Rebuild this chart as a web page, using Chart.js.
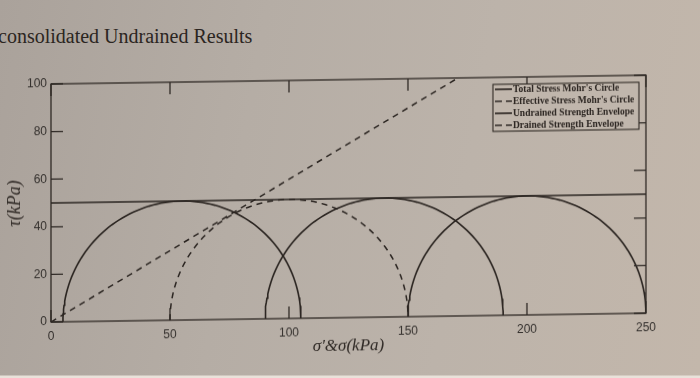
<!DOCTYPE html>
<html>
<head>
<meta charset="utf-8">
<script src="https://cdn.jsdelivr.net/npm/chart.js@4.4.1/dist/chart.umd.min.js"></script>
<style>
  html, body { margin: 0; padding: 0; width: 700px; height: 378px; overflow: hidden; }
  body {
    position: relative;
    background:
      linear-gradient(to bottom, rgba(0,0,0,0) 0, rgba(0,0,0,0) 375px, #e9e2da 376px),
      linear-gradient(100deg, #aaa29b 0%, #b5ada5 35%, #bcb3aa 65%, #c3b7ab 100%);
  }
  #title {
    position: absolute; left: -2px; top: 25px;
    font-family: "Liberation Serif", serif; font-size: 20px; color: #2b2521;
    white-space: nowrap;
  }
  #c { position: absolute; left: 0; top: 0; transform: skewY(-0.85deg); transform-origin: 51px 0; }
</style>
</head>
<body>
<div id="title">consolidated Undrained Results</div>
<canvas id="c" width="700" height="378"></canvas>
<script>
// ---- data ----
const totalSigma3 = [5, 90, 150];      // kPa, total stress Mohr circles (minor)
const totalSigma1 = [105, 190, 250];   // kPa, total stress Mohr circles (major)
const effSigma3 = [50];                // kPa, effective stress Mohr circle
const effSigma1 = [150];
const undrainedX = [0, 250];           // undrained strength envelope (Su = 50)
const undrainedY = [50, 50];
const drainedX = [0, 171];             // drained strength envelope (phi' ~ 30 deg, c' = 0)
const drainedY = [0, 100];
const xTicks = [0, 50, 100, 150, 200, 250];
const yTicks = [0, 20, 40, 60, 80, 100];
const legendLabels = ["Total Stress Mohr's Circle", "Effective Stress Mohr's Circle",
                      "Undrained Strength Envelope", "Drained Strength Envelope"];
const legendDashed = [false, true, false, true];
const xTitle = "\u03C3'&\u03C3(kPa)";
const yTitle = "\u03C4(kPa)";

const INK = '#2a2420';

function mohrPoints(s3, s1) {
  const c = (s1 + s3) / 2, r = (s1 - s3) / 2, pts = [];
  for (let a = 180; a >= 0; a -= 2) {
    const t = a * Math.PI / 180;
    pts.push({ x: c + r * Math.cos(t), y: r * Math.sin(t) });
  }
  return pts;
}
function pairs(xs, ys) { return xs.map((x, i) => ({ x, y: ys[i] })); }

const datasets = [];
effSigma3.forEach((s3, i) => datasets.push({
  data: mohrPoints(s3, effSigma1[i]), borderColor: INK, borderWidth: 1.5, borderDash: [6, 5]
}));
datasets.push({ data: pairs(drainedX, drainedY), borderColor: INK, borderWidth: 1.5, borderDash: [6, 5] });
totalSigma3.forEach((s3, i) => datasets.push({
  data: mohrPoints(s3, totalSigma1[i]), borderColor: INK, borderWidth: 1.6
}));
datasets.push({ data: pairs(undrainedX, undrainedY), borderColor: INK, borderWidth: 1.4 });
datasets.forEach(d => { d.showLine = true; d.pointRadius = 0; d.tension = 0; d.fill = false; });

const framePlugin = {
  id: 'frame',
  afterDatasetsDraw(chart) {
    const { ctx, chartArea: a, scales: { x, y } } = chart;
    ctx.save();
    ctx.strokeStyle = '#2e2824';
    ctx.lineWidth = 1.3;
    ctx.strokeRect(a.left, a.top, a.right - a.left, a.bottom - a.top);
    const L = 12;
    ctx.beginPath();
    xTicks.forEach(v => {
      const px = x.getPixelForValue(v);
      ctx.moveTo(px, a.bottom); ctx.lineTo(px, a.bottom - L);
      ctx.moveTo(px, a.top); ctx.lineTo(px, a.top + L);
    });
    yTicks.forEach(v => {
      const py = y.getPixelForValue(v);
      ctx.moveTo(a.left, py); ctx.lineTo(a.left + L, py);
      ctx.moveTo(a.right, py); ctx.lineTo(a.right - L, py);
    });
    ctx.stroke();

    // legend box
    const w = 146, rowH = 12, h = rowH * legendLabels.length - 1;
    const bx = a.right - 7 - w, by = a.top + 7;
    ctx.fillStyle = '#c0b6ac';
    ctx.fillRect(bx, by, w, h);
    ctx.lineWidth = 1.1;
    ctx.strokeRect(bx, by, w, h);
    ctx.font = 'bold 9.5px "Liberation Serif", serif';
    ctx.textBaseline = 'middle';
    ctx.fillStyle = '#2a2420';
    legendLabels.forEach((lab, i) => {
      const cy = by + 5 + i * rowH;
      ctx.beginPath();
      ctx.lineWidth = 1.7;
      ctx.setLineDash(legendDashed[i] ? [7, 4] : []);
      ctx.moveTo(bx + 2, cy); ctx.lineTo(bx + 19, cy);
      ctx.stroke();
      ctx.setLineDash([]);
      ctx.fillText(lab, bx + 20, cy + 0.5);
    });
    ctx.restore();
  }
};

new Chart(document.getElementById('c'), {
  type: 'scatter',
  data: { datasets },
  options: {
    responsive: false,
    animation: false,
    events: [],
    layout: { padding: { top: 84, right: 54, left: 0, bottom: 0 } },
    plugins: { legend: { display: false }, tooltip: { enabled: false } },
    scales: {
      x: {
        type: 'linear', min: 0, max: 250,
        afterBuildTicks: s => { s.ticks = xTicks.map(v => ({ value: v })); },
        ticks: { padding: 7, color: '#34302d', font: { family: '"Liberation Sans", Arial, sans-serif', size: 12 }, maxRotation: 0 },
        grid: { display: false, drawTicks: false },
        border: { display: false },
        title: { display: true, text: xTitle, color: '#2e2824',
                 font: { family: '"Liberation Serif", serif', style: 'italic', size: 17 },
                 padding: { top: 0, bottom: 17 } },
        afterFit: s => { s.height = 56; }
      },
      y: {
        type: 'linear', min: 0, max: 100,
        afterBuildTicks: s => { s.ticks = yTicks.map(v => ({ value: v })); },
        ticks: { padding: 4, color: '#34302d', font: { family: '"Liberation Sans", Arial, sans-serif', size: 12 } },
        grid: { display: false, drawTicks: false },
        border: { display: false },
        title: { display: true, text: yTitle, color: '#2e2824',
                 font: { family: '"Liberation Serif", serif', style: 'italic', size: 18 },
                 padding: { top: 4, bottom: 0 } },
        afterFit: s => { s.width = 51; }
      }
    }
  },
  plugins: [framePlugin]
});
</script>
</body>
</html>
